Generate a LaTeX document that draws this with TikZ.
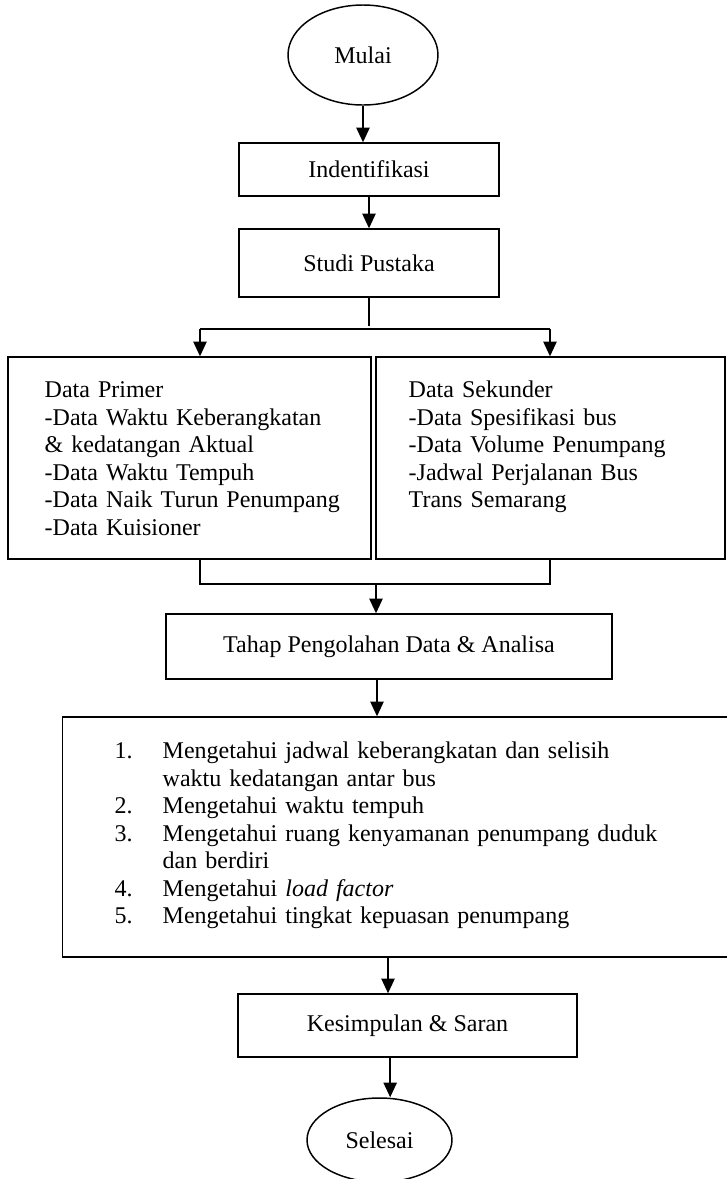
\documentclass[tikz,border=0pt]{standalone}
\usepackage{fontspec}
\setmainfont{Liberation Serif}
\usetikzlibrary{shapes.geometric}
\usetikzlibrary{arrows.meta}
\tikzstyle{terminal}=[ellipse,draw=black,inner sep=0mm]
\tikzstyle{process}=[rectangle,draw=black,inner sep=0mm]
\tikzstyle{textblock}=[anchor=north west,inner sep=0mm,align=left]
\tikzstyle{arrow}=[-{Triangle[length=11pt,width=10pt]}]
\tikzset{every picture/.style={
    line width=1.1pt
  }
}

\begin{document}
\begin{tikzpicture}[x=0.75pt,y=-0.75pt,font=\fontsize{18}{20.6}\selectfont]
    \useasboundingbox (0,0) rectangle (726,1179);
    \node[terminal,minimum width=112.5pt,minimum height=75pt] at (363,55) (mulai) {Mulai};
    \node[process,minimum width=195pt,minimum height=39.75pt] at (369,169.5) (ident) {Indentifikasi};
    \node[process,minimum width=195pt,minimum height=51pt] at (369,263) (studi) {Studi Pustaka};
    \node[process,minimum width=272.25pt,minimum height=151.5pt] at (189.5,458) (primer) {};
    \node[process,minimum width=261.75pt,minimum height=151.5pt] at (550.5,458) (sekunder) {};
    \node[textblock,text width=245pt] at (44,377.8) (primerteks) {\strut Data Primer\\
      \makebox[219.75pt][s]{-Data Waktu Keberangkatan}\\
      \& kedatangan Aktual\\
      -Data Waktu Tempuh\\
      -Data Naik Turun Penumpang\\
      -Data Kuisioner};
    \node[textblock,text width=230pt] at (408,377.8) (sekunderteks) {\strut Data Sekunder\\
      -Data Spesifikasi bus\\
      -Data Volume Penumpang\\
      \makebox[210pt][s]{-Jadwal Perjalanan Bus}\\
      Trans Semarang};
    \node[process,minimum width=334.5pt,minimum height=48.75pt] at (389,646.5) (tahap) {Tahap Pengolahan Data \& Analisa};
    \node[process,minimum width=502.5pt,minimum height=180pt] at (397.5,837) (hasil) {};
    \node[textblock,text width=420pt] at (114,738.8) (hasilteks) {\strut\makebox[36pt][l]{1.}Mengetahui jadwal keberangkatan dan selisih\\
      \hspace*{36pt}waktu kedatangan antar bus\\
      \makebox[36pt][l]{2.}Mengetahui waktu tempuh\\
      \makebox[36pt][l]{3.}Mengetahui ruang kenyamanan penumpang duduk\\
      \hspace*{36pt}dan berdiri\\
      \makebox[36pt][l]{4.}Mengetahui \textit{load factor}\\
      \makebox[36pt][l]{5.}Mengetahui tingkat kepuasan penumpang};
    \node[process,minimum width=254.25pt,minimum height=47.25pt] at (407.5,1025.5) (kesimpulan) {Kesimpulan \& Saran};
    \node[terminal,minimum width=108.75pt,minimum height=63pt] at (379.5,1140) (selesai) {Selesai};
    \coordinate (cabang) at (369,326);
    \coordinate (kiri) at (200,329);
    \coordinate (kanan) at (550,329);
    \coordinate (gabungkiri) at (200,584);
    \coordinate (gabungkanan) at (550,584);
    \coordinate (gabung) at (376,584);
    \coordinate (turun1) at ([xshift=-9pt]tahap.south);
    \coordinate (turun2) at ([xshift=-14.6pt]kesimpulan.north);
    \coordinate (turun3) at ([xshift=-13pt]kesimpulan.south);
    \draw[arrow] (mulai.south) -- (mulai.south |- ident.north);
    \draw[arrow] (ident) -- (studi);
    \draw (studi) -- (cabang);
    \draw (kiri) -- (kanan);
    \draw[arrow] (kiri) -- (kiri |- primer.north);
    \draw[arrow] (kanan) -- (kanan |- sekunder.north);
    \draw (gabungkiri |- primer.south) -- (gabungkiri) -- (gabungkanan) -- (gabungkanan |- sekunder.south);
    \draw[arrow] (gabung) -- (gabung |- tahap.north);
    \draw[arrow] (turun1) -- (turun1 |- hasil.north);
    \draw[arrow] (turun2 |- hasil.south) -- (turun2);
    \draw[arrow] (turun3) -- (turun3 |- selesai.north);
\end{tikzpicture}
\end{document}
